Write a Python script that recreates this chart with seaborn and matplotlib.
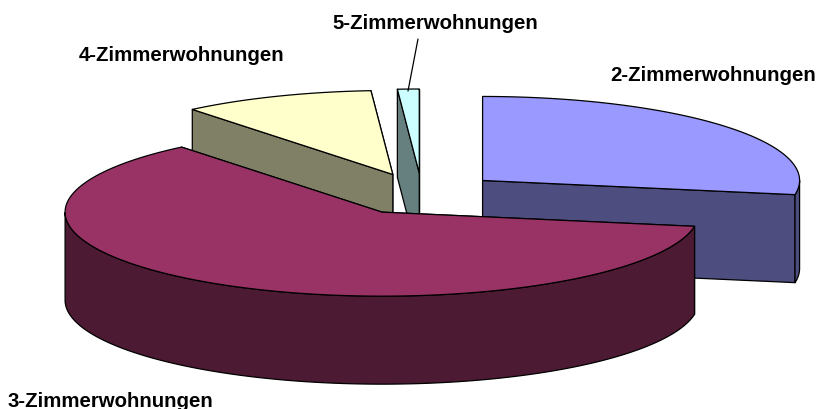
"""Exploded 3D-look pie of apartment sizes."""

import matplotlib

matplotlib.use("Agg")
import matplotlib.pyplot as plt
import numpy as np
import seaborn as sns

labels = ["2-Zimmerwohnungen", "3-Zimmerwohnungen", "4-Zimmerwohnungen", "5-Zimmerwohnungen"]
shares = [27.7, 61.4, 9.8, 1.1]
top_colors = ["#9999FF", "#993366", "#FFFFCC", "#CCFFFF"]

# pie geometry in canvas pixels
CX, CY = 422, 195
RX, RY = 317, 84
DEPTH = 88
EXPLODE = 0.25
LW = 0.9


def rim(t, apex):
    return apex[0] + RX * np.cos(t), apex[1] - RY * np.sin(t)


def draw_slice(ax, t0, t1, top, side):
    """t0 > t1, going clockwise from t0 to t1 (radians)."""
    mid = (t0 + t1) / 2
    apex = (CX + EXPLODE * RX * np.cos(mid), CY - EXPLODE * RY * np.sin(mid))
    style = {"edgecolor": "black", "linewidth": LW, "joinstyle": "round"}

    # cut faces, the one nearer the viewer last
    for t in sorted([t0, t1], key=lambda a: -np.sin(a)):
        x, y = rim(t, apex)
        ax.fill([apex[0], x, x, apex[0]], [apex[1], y, y + DEPTH, apex[1] + DEPTH], facecolor=side, **style)

    # outer wall, only where the rim faces the viewer
    ts = np.linspace(t0, t1, 300)
    front = ts[np.sin(ts) < 0]
    if len(front):
        x, y = rim(front, apex)
        ax.fill(np.r_[x, x[::-1]], np.r_[y, y[::-1] + DEPTH], facecolor=side, **style)

    x, y = rim(ts, apex)
    ax.fill(np.r_[apex[0], x], np.r_[apex[1], y], facecolor=top, **style)


sns.set_theme(style="white")
plt.rcParams["font.family"] = ["Liberation Sans", "DejaVu Sans"]
palette = sns.color_palette(top_colors)

fig = plt.figure(figsize=(8.19, 4.10), dpi=100)
ax = fig.add_axes([0, 0, 1, 1])
ax.set_xlim(0, 819)
ax.set_ylim(410, 0)
ax.axis("off")

edges = np.pi / 2 - 2 * np.pi * np.r_[0, np.cumsum(shares)] / np.sum(shares)
# back slices first so the big one sits over them
for i in [3, 2, 0, 1]:
    side = tuple(c * 0.5 for c in palette[i])
    draw_slice(ax, edges[i], edges[i + 1], palette[i], side)

label_pos = [(610, 81), (8, 407), (79, 61), (332, 29)]
for text, (x, y) in zip(labels, label_pos):
    ax.text(x, y, text, fontsize=14.7, fontweight="bold", color="black", ha="left", va="baseline")
ax.plot([418, 408], [40, 92], color="black", linewidth=LW)

fig.savefig("out.png", dpi=100)
